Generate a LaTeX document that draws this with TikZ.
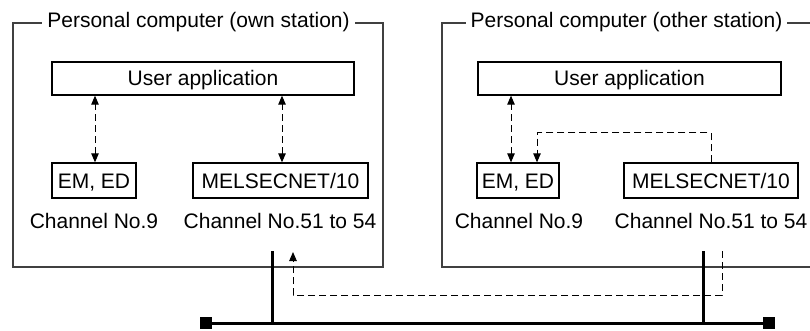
\documentclass[tikz,border=0pt]{standalone}
\usepackage{fontspec}
\setmainfont{Liberation Sans}
\usetikzlibrary{arrows.meta}

\tikzset{
  cadre/.style={draw=black!75, line width=1.2pt},
  titre/.style={fill=white, inner xsep=5pt, inner ysep=0pt},
  boite/.style={draw, line width=1.3pt, inner sep=0pt, text height=15pt, text depth=0pt, minimum height=35pt},
  canal/.style={anchor=base, inner sep=0pt},
  lien/.style={dashed, dash pattern=on 7pt off 4pt, line width=1pt},
  pointe/.style={-{Triangle[length=9pt,width=7.5pt]}},
  double/.style={{Triangle[length=9pt,width=7.5pt]}-{Triangle[length=9pt,width=7.5pt]}},
  bus/.style={line width=3pt},
  borne/.style={fill=black, inner sep=0pt, minimum size=12pt}
}

\begin{document}
\begin{tikzpicture}[x=1pt, y=-1pt, font=\fontsize{21}{25}\selectfont]
    % Cadre de l'image : 810 x 331
    \clip (0,0) rectangle (810,331);

    % Poste local
    \draw[cadre] (13,23) rectangle (383,267);
    \node[titre] (t1) at (198.5,22.5) {Personal computer (own station)};
    \node[boite, minimum width=302pt, minimum height=33pt] (ua1) at (203,78.5) {User application};
    \node[boite, minimum width=84pt] (em1) at (94,180.5) {EM, ED};
    \node[boite, minimum width=175pt] (mel1) at (280.5,180.5) {MELSECNET/10};
    \node[canal] (c9a) at (94,228) {Channel No.9};
    \node[canal] (c51a) at (280,228) {Channel No.51 to 54};

    \draw[lien, double] (em1.north -| 95,0) -- (ua1.south -| 95,0);
    \draw[lien, double] (mel1.north -| 282,0) -- (ua1.south -| 282,0);

    % Poste distant
    \draw[cadre] (442,23) rectangle (830,267);
    \node[titre] (t2) at (626.5,22.5) {Personal computer (other station)};
    \node[boite, minimum width=303pt, minimum height=33pt] (ua2) at (629.5,78.5) {User application};
    \node[boite, minimum width=82pt] (em2) at (518,180.5) {EM, ED};
    \node[boite, minimum width=174pt] (mel2) at (711,180.5) {MELSECNET/10};
    \node[canal] (c9b) at (519,228) {Channel No.9};
    \node[canal] (c51b) at (711,228) {Channel No.51 to 54};

    \draw[lien, double] ([xshift=-7pt]em2.north) -- ([xshift=-7pt]em2.north |- ua2.south);
    \draw[lien, pointe] (mel2.north) |- (537,133) -- ([xshift=19pt]em2.north);

    % Reseau
    \node[borne] (b1) at (206,323) {};
    \node[borne] (b2) at (769,323) {};
    \draw[bus] (b1) -- (b2);
    \coordinate (d1) at (272,251);
    \coordinate (d2) at (703,251);
    \draw[bus] (d1) -- (d1 |- b1);
    \draw[bus] (d2) -- (d2 |- b2);

    % Retour en pointilles
    \coordinate (r1) at (722,251);
    \coordinate (r2) at (293,252);
    \draw[lien, pointe] (r1) -- (722,295) -| (r2);
\end{tikzpicture}
\end{document}
